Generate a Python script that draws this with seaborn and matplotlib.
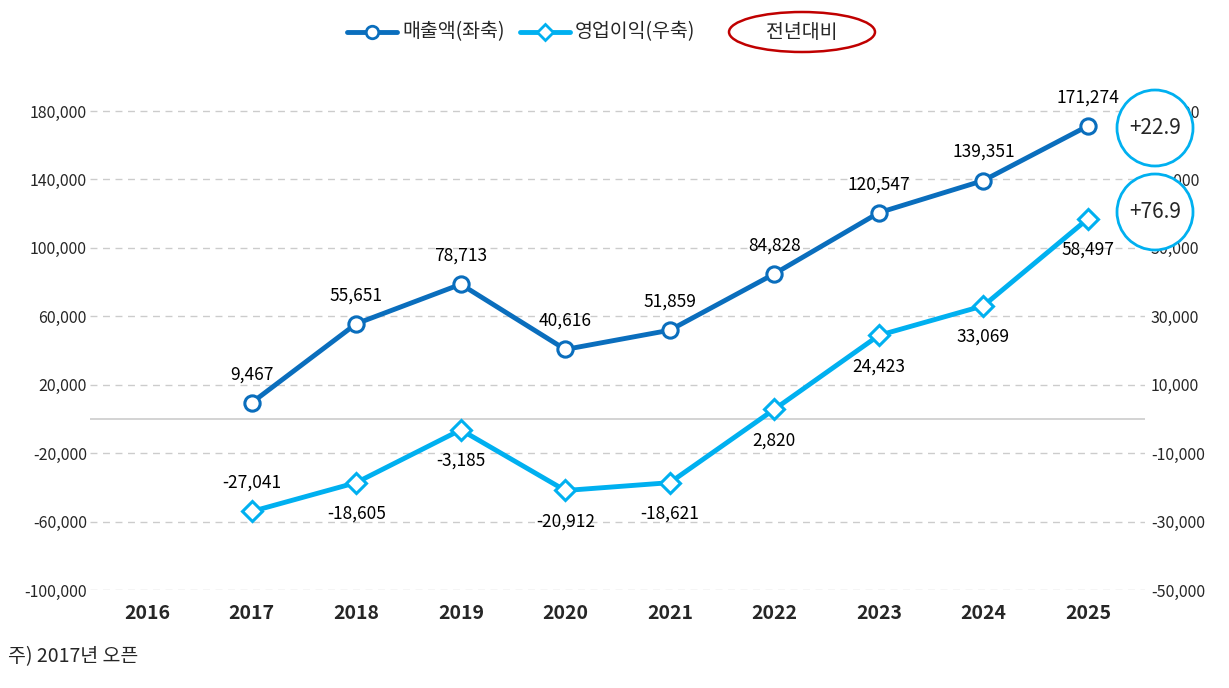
import matplotlib
matplotlib.use("Agg")
import matplotlib.pyplot as plt
import seaborn as sns
import pandas as pd
from matplotlib.patches import Ellipse, Circle
from matplotlib.lines import Line2D

sns.set_theme(style="white")
plt.rcParams['font.family'] = ['Noto Sans CJK KR', 'DejaVu Sans']

years = ["2016", "2017", "2018", "2019", "2020", "2021", "2022", "2023", "2024", "2025"]
sales = [None, 9467, 55651, 78713, 40616, 51859, 84828, 120547, 139351, 171274]
profit = [None, -27041, -18605, -3185, -20912, -18621, 2820, 24423, 33069, 58497]
yoy_labels = ["+22.9", "+76.9"]
left_ticks = [-100000, -60000, -20000, 20000, 60000, 100000, 140000, 180000]
right_ticks = [-50000, -30000, -10000, 10000, 30000, 50000, 70000, 90000]

c1 = "#0a6ebd"
c2 = "#00b0f0"

fig = plt.figure(figsize=(12.29, 6.88), dpi=100)
ax = fig.add_axes([0.073, 0.1424, 0.859, 0.7336])
ax2 = ax.twinx()
x = list(range(len(years)))
df = pd.DataFrame({"x": x, "sales": sales, "profit": profit}).dropna()

ax.set_ylim(-100000, 195000)
ax2.set_ylim(-50000, 97500)
ax.set_xlim(-0.55, 9.55)
for t in left_ticks:
    ax.axhline(t, color="#cccccc", lw=1, ls=(0, (5, 4)), zorder=0)
ax.axhline(0, color="#cccccc", lw=1.2, zorder=0)

sns.lineplot(data=df, x="x", y="sales", ax=ax, color=c1, lw=3.5, marker="o",
             markersize=11, markerfacecolor="white", markeredgecolor=c1, markeredgewidth=2.2, zorder=5)
sns.lineplot(data=df, x="x", y="profit", ax=ax2, color=c2, lw=3.5, marker="D",
             markersize=10, markerfacecolor="white", markeredgecolor=c2, markeredgewidth=2.2, zorder=5)

for xi, v in zip(df["x"], df["sales"]):
    ax.annotate(f"{int(v):,}", (xi, v), xytext=(0, 14), textcoords="offset points",
                ha="center", va="bottom", fontsize=12.5, color="black")
for xi, v in zip(df["x"], df["profit"]):
    off = 14 if xi == 1 else -16
    ax2.annotate(f"{int(v):,}", (xi, v), xytext=(0, off), textcoords="offset points",
                 ha="center", va="bottom" if off > 0 else "top", fontsize=12.5, color="black")

ax.set_yticks(left_ticks)
ax.set_yticklabels([f"{t:,}" for t in left_ticks], fontsize=11.5)
ax2.set_yticks(right_ticks)
ax2.set_yticklabels([f"{t:,}" for t in right_ticks], fontsize=11.5)
ax.set_xticks(x)
ax.set_xticklabels(years, fontsize=14, fontweight="bold")
ax.set_xlabel(""); ax.set_ylabel(""); ax2.set_ylabel("")
for a in (ax, ax2):
    for s in a.spines.values():
        s.set_visible(False)
    a.tick_params(length=0, pad=4)
ax.tick_params(axis="x", pad=10)
ax.tick_params(axis="y", pad=2)

# YoY circles
for (cy, lab) in zip([128, 212], yoy_labels):
    fx, fy = 1155 / 1229, 1 - cy / 688
    fig.patches.append(Ellipse((fx, fy), 76 / 1229, 76 / 688, transform=fig.transFigure,
                               facecolor="white", edgecolor=c2, lw=2, zorder=10))
    fig.text(fx, fy, lab, ha="center", va="center", fontsize=15, zorder=11)

# legend
ly = 1 - 32 / 688
fig.lines.append(Line2D([347 / 1229, 397 / 1229], [ly, ly], transform=fig.transFigure, color=c1, lw=3.5,
                        marker="o", markevery=[1], markersize=0))
fig.lines.append(Line2D([372 / 1229], [ly], transform=fig.transFigure, marker="o", markersize=9,
                        markerfacecolor="white", markeredgecolor=c1, markeredgewidth=2))
fig.text(402 / 1229, ly, "매출액(좌축)", ha="left", va="center", fontsize=14)
fig.lines.append(Line2D([520 / 1229, 570 / 1229], [ly, ly], transform=fig.transFigure, color=c2, lw=3.5))
fig.lines.append(Line2D([545 / 1229], [ly], transform=fig.transFigure, marker="D", markersize=8,
                        markerfacecolor="white", markeredgecolor=c2, markeredgewidth=2))
fig.text(575 / 1229, ly, "영업이익(우축)", ha="left", va="center", fontsize=14)
fig.patches.append(Ellipse((802 / 1229, ly), 146 / 1229, 40 / 688, transform=fig.transFigure,
                           facecolor="white", edgecolor="#c00000", lw=1.8))
fig.text(802 / 1229, ly, "전년대비", ha="center", va="center", fontsize=14)

fig.text(8 / 1229, 1 - 657 / 688, "주) 2017년 오픈", ha="left", va="center", fontsize=14)

fig.savefig("out.png", dpi=100)
